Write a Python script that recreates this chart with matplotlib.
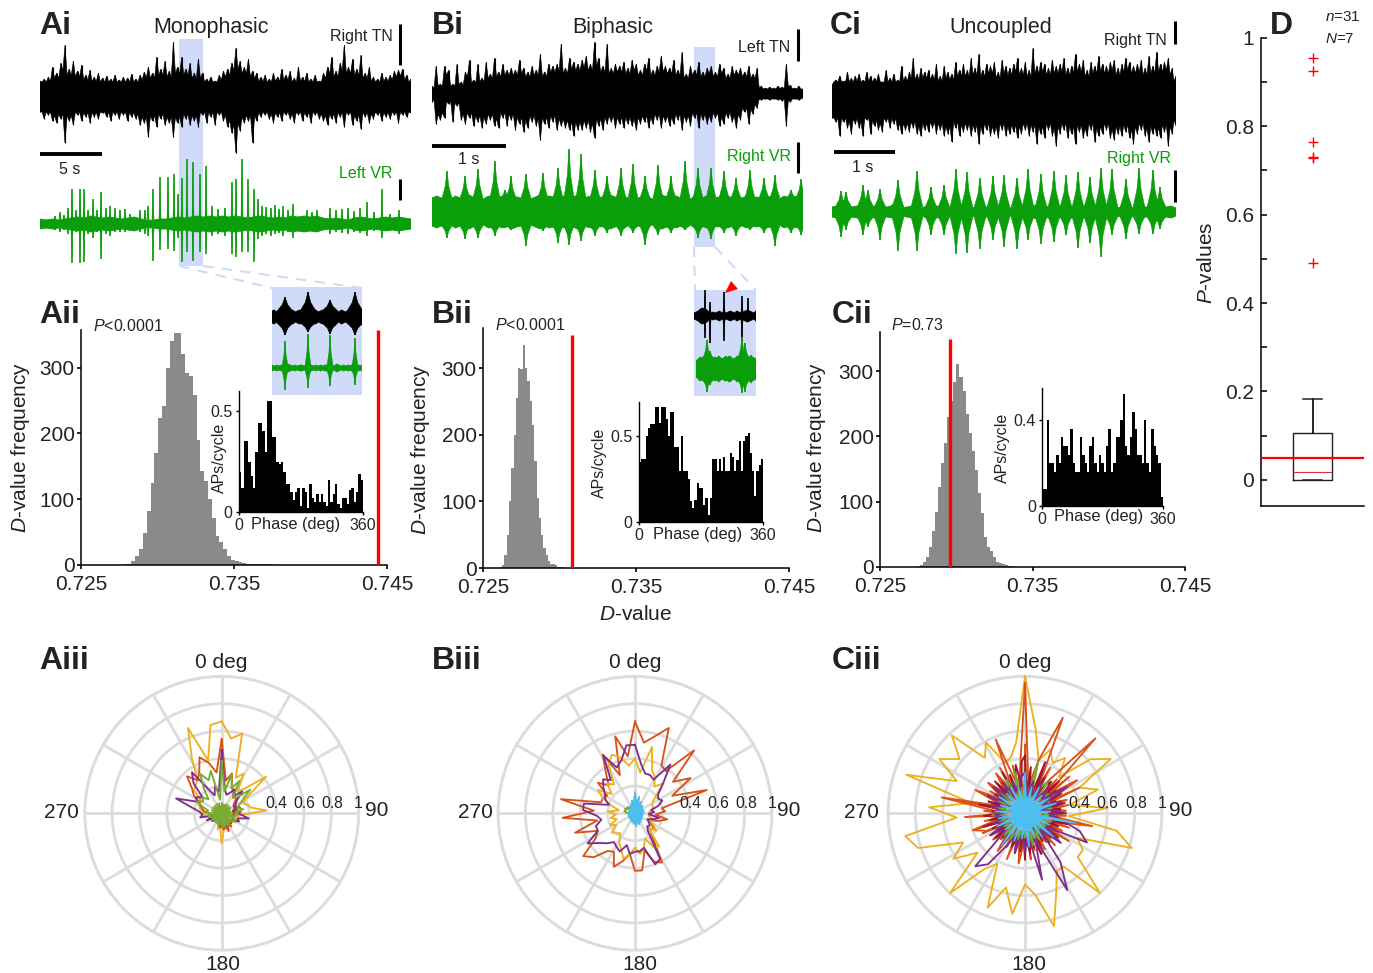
import numpy as np
import matplotlib
matplotlib.use('Agg')
import matplotlib.pyplot as plt

plt.rcParams['font.family'] = ['Liberation Sans', 'DejaVu Sans']
plt.rcParams['mathtext.fontset'] = 'custom'
plt.rcParams['mathtext.rm'] = 'Liberation Sans'
plt.rcParams['mathtext.it'] = 'Liberation Sans:italic'
plt.rcParams['text.color'] = '#222222'
plt.rcParams['xtick.labelcolor'] = '#222222'
plt.rcParams['ytick.labelcolor'] = '#222222'

W, H = 1373, 973
BLACK = '#000000'
GREEN = '#0a9e0a'
BLUE = '#cfdbf8'
GREY = '#8a8a8a'
RED = '#ff0000'
RING = '#dcdcdc'
AMBER = '#edb120'
ORANGE = '#d95319'
PURPLE = '#7e2f8e'
LEAF = '#77ac30'
SKY = '#4dbeee'
WINE = '#a2142f'

# nerve traces, envelope amplitude above / below baseline
ai_tn_up = [16,18,20,30,24,34,52,28,36,26,32,22,27,20,24,19,21,18,22,17,20,19,23,18,22,25,30,24,40,28,36,26,55,30,40,28,34,24,38,24,18,20,16,22,26,28,34,49,36,30,38,26,24,20,22,18,24,20,28,22,26,19,30,20,24,18,22,16,24,30,40,26,34,52,30,38,28,42,24,30,20,18,24,20,22,26,27,28,22,18]
ai_tn_dn = [15,22,18,24,26,22,46,24,28,18,24,20,26,20,22,16,20,24,18,22,18,24,20,22,28,26,40,24,30,22,28,26,40,26,30,22,28,24,30,18,26,20,28,18,24,30,36,56,34,26,24,46,24,20,18,22,26,20,24,18,22,26,18,24,20,26,18,22,24,28,22,26,20,30,18,28,24,32,20,26,22,18,24,20,22,18,26,18,20,16]
bi_tn_up = [8,28,10,28,24,10,30,12,22,34,14,30,16,32,20,36,22,30,24,26,24,34,26,22,28,24,40,22,30,28,30,50,26,36,32,30,34,38,30,52,36,28,50,26,30,28,32,26,34,30,24,30,36,24,28,38,28,26,34,24,42,20,28,24,32,22,26,28,22,30,26,20,28,24,26,22,28,20,26,8,6,7,6,8,7,30,9,6,8,5]
bi_tn_dn = [8,30,26,24,10,28,12,26,30,24,32,28,34,30,26,32,34,24,32,26,36,30,38,34,28,32,46,30,34,28,36,32,34,36,42,36,36,34,38,44,32,36,30,28,34,30,34,30,32,36,30,28,34,30,26,34,28,32,30,26,36,28,32,24,34,26,30,28,24,32,30,24,28,34,26,18,30,20,14,6,5,6,5,6,7,32,8,5,6,4]
ci_tn_up = [15,20,24,19,28,22,24,26,20,28,24,22,26,18,30,22,26,20,34,24,28,42,26,32,28,30,26,36,24,34,28,26,38,30,36,30,42,32,46,30,36,34,38,28,40,34,32,36,42,32,38,30,52,34,38,36,32,40,34,36,42,32,34,46,36,40,30,38,34,44,36,34,38,40,32,36,42,38,34,36,40,32,44,34,48,36,38,42,32,24]
ci_tn_dn = [18,22,36,22,28,34,24,28,36,20,34,26,30,32,22,28,24,30,34,30,32,28,34,36,30,32,28,34,30,36,34,42,28,36,32,30,36,32,44,34,30,36,34,38,30,36,34,32,38,34,30,36,32,44,34,38,30,36,46,34,30,38,34,44,32,38,36,30,42,36,34,30,38,40,34,36,32,38,44,34,30,36,42,34,36,38,32,46,34,26]

# ventral root bursts: position along the sweep, height up, depth down
ai_vr_t = [15,20,24,28,32,36,40,44,48,53,57,61,66,70,75,80,85,90,100,105,108,113,120,128,134,138,142,147,153,160,166,172,178,185,192,196,202,208,214,218,222,226,231,235,239,243,248,253,267,272,277,290,296,302,308,314,320,327,334,342,350,359]
ai_vr_up = [8,12,9,16,35,14,35,35,14,25,14,32,16,18,16,14,15,10,14,14,18,35,47,47,50,30,46,65,62,50,58,18,15,16,42,45,65,45,35,25,18,17,16,19,15,18,14,20,14,12,14,16,14,15,16,13,16,22,12,35,10,14]
ai_vr_dn = [6,8,6,10,39,8,39,38,10,14,8,35,10,12,8,8,8,6,8,10,12,37,26,25,27,14,38,28,37,28,30,12,10,12,30,33,28,28,38,15,12,10,12,10,9,12,8,14,8,7,8,10,8,9,10,8,9,12,7,14,6,10]
ai_vr_base = [5,4,5,4,5,6,7,6,8,7,6,7,6,5,6,7,5,4,4,5,5,6,7,6,7,8,7,8,7,8,7,8,7,6,7,8,7,6,7,6,8,7,8,7,8,6,5,6,5,4,6,7,6,5,6,7,6,7,6,5]
bi_vr_t = [15,33,46,63,73,79,94,111,126,137,149,163,175,189,201,213,226,239,253,266,279,292,304,318,332,343,359,369]
bi_vr_up = [41,36,43,51,22,36,38,39,44,63,58,42,36,44,48,36,47,36,51,44,44,41,34,42,34,37,22,33]
bi_vr_dn = [26,27,26,24,16,18,34,19,31,33,29,24,21,24,21,33,23,21,18,26,27,21,24,18,21,34,21,23]
bi_vr_base = [14,16,14,15,13,16,14,15,17,14,15,13,16,15,14,16,14,17,15,14,16,13,15,17,14,16,15,13,16,14,15,17,14,15,16,13,15,14,17,15,14,16,13,15,14,16,15,13,14,17,15,14,16,14,15,13,16,14,15,17,14,15,13,16,14,15,14,16,13,15,14,16,15,14,13,16,14,15,16,14]
ci_vr_t = [9,14,31,36,48,61,66,85,99,112,124,135,148,161,172,185,196,209,222,234,246,258,269,280,294,307,321,328]
ci_vr_up = [21,20,27,22,23,8,32,41,25,27,43,40,34,36,37,34,43,38,41,37,40,35,44,43,33,44,42,25]
ci_vr_dn = [25,18,23,15,28,5,39,39,23,23,42,41,37,28,35,37,28,32,30,23,36,31,45,23,27,22,22,17]
ci_vr_base = [5,6,5,7,5,6,4,6,5,7,6,5,6,5,4,5,6,5,4,6,5,6,5,4,5,6,5,6,4,5,6,5,7,5,6,5,4,6,5,6,5,7,5,6,4,5,6,5,6,4,5,6,7,5,6,5,6,4,5,6,5,4,6,5,6,5,7,5,6,4]

# zoomed sweeps shown inside the blue boxes
a_zoom_t = [13,36,58,83]
a_zoom_tn_up = [20,25,17,25]
a_zoom_tn_dn = [18,15,17,18]
a_zoom_tn_base = [6,7,5,7,8,6,9,8,6,7,5,6,7,5,7,8,10,7,6,7,5,6,7,5,8,9,7,8,6,5,7,6,5,7,6,8,9,7,6,8]
a_zoom_vr_up = [27,34,33,30]
a_zoom_vr_dn = [22,20,18,17]
a_zoom_vr_base = [3,2,3,2,3,2,3,4,3,2,3,2,3,3,2,3,4,3,2,3,2,3,2,3,3,2,3,2,4,3,2,3,2,3,2,4,3,2,3,2]
b_zoom_tn_t = [11,16,30,48,54]
b_zoom_tn_up = [26,14,24,20,18]
b_zoom_tn_dn = [22,27,25,25,6]
b_zoom_tn_base = [3,4,5,7,8,7,6,4,3,4,3,4,5,3,4,3,4,5,4,3,5,4,3,4,5,6,5,4,3,5]
b_zoom_vr_t = [11,14,30,46,49,55]
b_zoom_vr_up = [29,18,13,32,26,14]
b_zoom_vr_dn = [23,16,12,24,23,14]
b_zoom_vr_base = [8,10,12,11,13,12,11,12,10,12,11,13,11,10,12,11,13,12,10,11,13,12,14,12,11,13,11,12,10,11]

# D-value histograms
a_hist_start, a_hist_bin = 0.7278, 0.00025
a_hist = [2,2,6,14,25,48,82,125,170,224,241,300,340,352,352,320,292,287,259,190,143,128,100,72,44,35,24,13,8,6,4,3,2,1,2,1,1,2,1]
a_obs = 0.7444
b_hist_start, b_hist_bin = 0.7261, 0.00015
b_hist = [2,5,20,50,100,150,200,255,300,298,335,300,280,250,215,160,105,75,50,30,20,10,6,6,5,2,2,1]
b_obs = 0.7308
c_hist_start, c_hist_bin = 0.72741, 0.0002
c_hist = [2,3,8,15,30,55,85,122,160,190,230,255,283,311,291,270,235,205,178,148,113,82,46,31,25,15,8,6,4,3,2,1]
c_obs = 0.7296

# phase histograms, APs per cycle
a_phase = [0.2,0.12,0.35,0.35,0.25,0.18,0.12,0.3,0.44,0.44,0.4,0.3,0.55,0.55,0.37,0.37,0.25,0.24,0.25,0.2,0.14,0.14,0.1,0.06,0.1,0.12,0.03,0.12,0.1,0.02,0.14,0.07,0.05,0.09,0.05,0.09,0.05,0.03,0.16,0.05,0.09,0.14,0.04,0.02,0.07,0.07,0.04,0.11,0.12,0.05,0.1,0.19,0.16]
b_phase = [0.35,0.37,0.37,0.5,0.55,0.57,0.57,0.67,0.67,0.58,0.67,0.67,0.6,0.5,0.64,0.64,0.44,0.44,0.3,0.5,0.3,0.3,0.25,0.12,0.08,0.13,0.23,0.2,0.2,0.1,0.14,0.04,0.14,0.37,0.37,0.3,0.37,0.3,0.38,0.3,0.3,0.4,0.38,0.3,0.36,0.47,0.3,0.47,0.5,0.52,0.4,0.3,0.15,0.3,0.33,0.37]
c_phase = [0.08,0.08,0.4,0.2,0.2,0.16,0.24,0.2,0.32,0.28,0.28,0.24,0.36,0.2,0.16,0.16,0.32,0.24,0.2,0.16,0.28,0.32,0.2,0.16,0.24,0.2,0.16,0.28,0.36,0.16,0.2,0.32,0.32,0.4,0.52,0.28,0.24,0.32,0.44,0.36,0.24,0.24,0.2,0.4,0.2,0.16,0.36,0.28,0.24,0.2,0.04]

# polar phase plots, one value per 7.2 deg (3.6 deg for the densest ones)
a_amber = [.67,.55,.6,.28,.33,.2,.25,.42,.22,.17,.2,.22,.33,.15,.12,.09,.12,.08,.1,.06,.08,.1,.07,.1,.12,.22,.1,.12,.06,.08,.06,.05,.07,.06,.05,.09,.1,.14,.13,.16,.17,.2,.18,.26,.28,.3,.45,.67,.4,.65]
a_orange = [.54,.24,.3,.2,.18,.14,.16,.12,.1,.12,.09,.1,.14,.08,.1,.08,.09,.1,.08,.06,.12,.09,.14,.1,.12,.1,.08,.06,.07,.05,.06,.06,.05,.08,.06,.09,.1,.08,.12,.14,.16,.18,.24,.28,.37,.3,.34,.44,.38,.3]
a_purple = [.46,.18,.14,.16,.2,.16,.22,.14,.12,.1,.14,.08,.1,.14,.2,.12,.14,.1,.08,.1,.07,.08,.1,.08,.06,.08,.1,.06,.08,.06,.07,.06,.09,.06,.12,.06,.16,.14,.16,.22,.35,.2,.22,.18,.3,.37,.2,.14,.2,.16]
a_leaf = [.38,.16,.29,.2,.27,.14,.16,.27,.18,.14,.12,.16,.1,.12,.1,.08,.1,.12,.07,.09,.08,.1,.07,.1,.08,.1,.07,.09,.07,.06,.08,.06,.05,.08,.06,.09,.1,.08,.12,.1,.14,.2,.16,.18,.14,.22,.33,.26,.32,.1]
a_core = [.08,.03,.07,.04,.08,.03,.08,.04,.08,.03,.07,.04,.08,.03,.08,.04,.08,.03,.08,.04,.08,.03,.09,.04,.1,.03,.08,.04,.08,.03,.08,.04,.08,.03,.07,.04,.08,.03,.08,.04,.08,.03,.08,.04,.08,.03,.08,.04,.08,.03]
b_orange = [.67,.52,.58,.67,.4,.38,.63,.36,.48,.3,.55,.2,.22,.15,.24,.18,.12,.14,.18,.16,.22,.41,.38,.28,.42,.42,.3,.36,.42,.32,.34,.44,.49,.34,.3,.46,.28,.53,.3,.55,.26,.26,.24,.35,.28,.36,.49,.3,.58,.42]
b_amber = [.4,.3,.5,.34,.3,.24,.3,.2,.15,.14,.14,.12,.1,.12,.1,.14,.12,.16,.2,.14,.3,.28,.2,.26,.3,.25,.3,.34,.28,.24,.18,.2,.22,.16,.2,.14,.18,.14,.2,.12,.18,.26,.32,.22,.3,.26,.4,.46,.42,.35]
b_purple = [.5,.36,.3,.3,.28,.44,.3,.22,.2,.22,.18,.12,.14,.1,.18,.14,.1,.12,.14,.13,.16,.38,.4,.26,.28,.28,.3,.24,.3,.28,.26,.3,.34,.41,.3,.3,.25,.28,.38,.38,.2,.24,.26,.3,.34,.3,.48,.36,.4,.5]
b_leaf = [.06,.05,.04,.05,.04,.05,.04,.05,.04,.05,.04,.05,.04,.05,.04,.05,.04,.05,.04,.05,.04,.05,.04,.05,.04,.05,.04,.05,.04,.05,.04,.05,.04,.05,.04,.05,.04,.05,.06,.08,.07,.08,.06,.07,.05,.06,.05,.06,.05,.06]
b_sky = [.16,.08,.13,.07,.1,.06,.08,.07,.06,.06,.07,.05,.07,.05,.06,.05,.06,.05,.07,.05,.08,.06,.09,.06,.1,.07,.08,.06,.07,.05,.06,.05,.05,.04,.05,.04,.05,.04,.05,.04,.05,.04,.05,.04,.05,.05,.07,.06,.1,.08]
c_amber = [1.0,.62,.4,.5,.42,.5,.36,.62,.74,.44,.56,.33,.6,.32,.68,.82,.42,.5,.5,.8,.48,.48,.62,.85,.6,.52,.74,.56,.74,.42,.5,.8,.45,.62,.5,.82,.89,.5,.7,.4,.91,.55,.74,.62,.78,.5,.59,.4,.42,.52]
c_orange = [.95,.2,.4,.75,.18,.3,.75,.2,.45,.16,.32,.18,.3,.16,.5,.18,.24,.14,.25,.12,.2,.16,.3,.14,.28,.18,.37,.16,.28,.14,.34,.18,.3,.16,.3,.4,.18,.28,.2,.62,.16,.4,.18,.35,.2,.36,.18,.58,.2,.3]
c_purple = [.3,.12,.24,.14,.26,.12,.24,.16,.36,.14,.28,.12,.26,.18,.28,.42,.5,.18,.34,.16,.44,.64,.2,.5,.16,.28,.14,.3,.16,.26,.46,.53,.16,.3,.14,.24,.16,.22,.14,.26,.16,.28,.14,.3,.16,.26,.14,.24,.16,.26]
c_leaf = [.24,.1,.38,.12,.22,.28,.1,.22,.12,.2,.1,.2,.12,.18,.1,.2,.12,.2,.1,.18,.12,.22,.1,.24,.12,.18,.1,.2,.12,.24,.1,.22,.12,.18,.1,.2,.12,.24,.1,.22,.12,.24,.1,.26,.12,.2,.28,.1,.32,.12]
c_red2 = [.5,.12,.3,.14,.36,.1,.26,.16,.38,.12,.28,.14,.34,.1,.42,.16,.3,.12,.44,.14,.26,.1,.32,.16,.28,.12,.3,.14,.24,.1,.34,.14,.3,.12,.38,.16,.28,.1,.32,.14,.26,.12,.3,.1,.24,.14,.28,.12,.34,.1,.3,.16,.26,.12,.28,.14,.36,.1,.24,.12,.32,.14,.26,.1,.3,.16,.28,.12,.34,.1,.4,.14,.3,.12,.44,.16,.3,.1,.52,.14,.28,.12,.36,.1,.3,.16,.34,.12,.28,.14,.32,.1,.38,.14,.3,.12,.36,.16,.28,.1]
c_wine = [.42,.14,.34,.18,.28,.12,.4,.2,.3,.14,.26,.3,.2,.34,.14,.28,.12,.3,.16,.24,.12,.3,.14,.26,.16,.3,.12,.24,.14,.32,.18,.26,.12,.28,.16,.3,.12,.26,.14,.28,.16,.24,.12,.3,.32,.14,.26,.18,.3,.12,.34,.16,.28,.12,.3,.18,.26,.14,.28,.12,.3,.16,.24,.14,.28,.12,.3,.16,.26,.14,.32,.12,.26,.16,.3,.14,.24,.12,.34,.16,.28,.14,.3,.12,.26,.16,.3,.14,.32,.18,.28,.12,.34,.16,.3,.14,.28,.36,.2,.38]
c_sky = [.3,.08,.2,.07,.22,.08,.18,.07,.21,.09,.24,.08,.19,.07,.37,.1,.2,.08,.27,.08,.22,.07,.2,.09,.25,.1,.19,.07,.22,.08,.3,.08,.19,.07,.23,.09,.2,.07,.22,.08,.19,.07,.23,.08,.2,.07,.22,.09,.2,.08]

# P-values, box summary
p_median, p_q1, p_q3, p_low, p_high = 0.018, 0.0, 0.105, 0.0, 0.182
p_fliers = [0.955, 0.925, 0.765, 0.73, 0.727, 0.49]
p_alpha = 0.05

fig = plt.figure(figsize=(W / 100, H / 100), dpi=100)


def add_ax(x0, y0, x1, y1, **kw):
    return fig.add_axes([x0 / W, 1 - y1 / H, (x1 - x0) / W, (y1 - y0) / H], **kw)


def zigzag(vals, floor):
    # spike tips with a valley between each pair, so the band reads as single spikes
    vals = np.array(vals, dtype=float)
    valley = np.maximum(floor, 0.78 * np.minimum(vals[:-1], vals[1:]))
    out = np.empty(len(vals) * 2 - 1)
    out[::2] = vals
    out[1::2] = valley
    return out


def draw_envelope(x0, x1, centre, up, dn, floor, color, zorder=2):
    ax = add_ax(x0, centre - 80, x1, centre + 80, zorder=zorder)
    ax.set_xlim(0, 1)
    ax.set_ylim(-80, 80)
    ax.axis('off')
    zu, zd = zigzag(up, floor), zigzag(dn, floor)
    xu = np.linspace(0, 1, len(zu))
    xd = np.linspace(0, 1, len(zd))
    ax.fill(np.r_[xu, xd[::-1]], np.r_[zu, -zd[::-1]], color=color, lw=0.4)
    ax.vlines(xu[::2], 0, up, color=color, lw=0.8)
    ax.vlines(xd[::2], -np.array(dn), 0, color=color, lw=0.8)


def draw_bursts(x0, x1, centre, t, up, dn, base, width, color, zorder=2):
    ax = add_ax(x0, centre - 80, x1, centre + 80, zorder=zorder)
    ax.set_xlim(0, x1 - x0)
    ax.set_ylim(-80, 80)
    ax.axis('off')
    xb = np.linspace(0, x1 - x0, len(base))
    base = np.array(base, dtype=float)
    ax.fill(np.r_[xb, xb[::-1]], np.r_[base, -base[::-1]], color=color, lw=0.6)
    core = base.mean() - 1
    for ti, u, d in zip(t, up, dn):
        for sign, h in ((1, u), (-1, d)):
            xs = [ti - width, ti - width * 0.35, ti, ti + width * 0.35, ti + width]
            ys = [core, core + 0.45 * (h - core), h, core + 0.45 * (h - core), core]
            ax.fill(xs, sign * np.array(ys), color=color, lw=0.4)
        ax.vlines(ti, -d, u, color=color, lw=1.1)


def draw_hist(box, start, bin_w, vals, obs, top, obs_top):
    ax = add_ax(*box, zorder=2)
    ax.patch.set_alpha(0)
    edges = start + bin_w * np.arange(len(vals) + 1)
    ax.stairs(vals, edges, fill=True, color=GREY, lw=0)
    ax.vlines(obs, 0, obs_top, color=RED, lw=2.4, zorder=3)
    ax.set_xlim(0.725, 0.745)
    ax.set_ylim(0, top)
    ax.set_xticks([0.725, 0.735, 0.745], ['0.725', '0.735', '0.745'])
    ax.set_yticks([0, 100, 200, 300])
    ax.spines[['top', 'right']].set_visible(False)
    ax.spines[['left', 'bottom']].set_linewidth(1.1)
    ax.tick_params(axis='both', labelsize=15, length=3, width=1.2, pad=1.5)
    ax.tick_params(axis='x', pad=4)
    return ax


def draw_phase(box, vals, ymax, ytick, label):
    ax = add_ax(*box, zorder=3)
    ax.patch.set_alpha(0)
    ax.stairs(vals, np.arange(len(vals) + 1), fill=True, color=BLACK, lw=0)
    ax.set_xlim(0, len(vals))
    ax.set_ylim(0, ymax)
    ax.set_xticks([0, len(vals)], ['0', '360'])
    ax.set_yticks([0, ytick], ['0', label])
    ax.spines[['top', 'right']].set_visible(False)
    ax.spines[['left', 'bottom']].set_linewidth(1.0)
    ax.tick_params(axis='both', labelsize=11.5, length=2.5, width=1, pad=2)
    ax.tick_params(axis='x', pad=1.5)


def draw_polar(cx, cy, series, core=None):
    ax = add_ax(cx - 137, cy - 137, cx + 137, cy + 137, projection='polar', zorder=2)
    ax.set_theta_zero_location('N')
    ax.set_theta_direction(-1)
    ax.set_rlim(0, 1)
    ax.set_rgrids([0.2, 0.4, 0.6, 0.8, 1.0], labels=[])
    ax.set_thetagrids(np.arange(0, 360, 30), labels=[])
    ax.grid(color=RING, lw=2.0)
    ax.spines['polar'].set_color(RING)
    ax.spines['polar'].set_linewidth(2.0)
    ax.patch.set_alpha(0)
    for vals, col in series:
        th = np.deg2rad(np.arange(len(vals) + 1) * 360 / len(vals))
        ax.plot(th, vals + vals[:1], color=col, lw=1.35, clip_on=False, zorder=3)
    if core is not None:
        vals, col = core
        th = np.deg2rad(np.arange(len(vals) + 1) * 360 / len(vals))
        ax.fill(th, vals + vals[:1], color=col, lw=1.0, zorder=4)


# blue highlight boxes go underneath everything
back = add_ax(0, 0, W, H, zorder=0)
back.set_xlim(0, W)
back.set_ylim(H, 0)
back.axis('off')
for x0, y0, x1, y1 in [(179, 39, 203, 266), (272, 287, 362, 395), (694, 47, 715, 247), (694, 290, 756, 396)]:
    back.fill([x0, x1, x1, x0], [y0, y0, y1, y1], color=BLUE, lw=0)
for xs, ys in [((179, 272), (266, 288)), ((203, 362), (266, 288)), ((694, 695), (247, 290)), ((715, 756), (247, 290))]:
    back.plot(xs, ys, color=BLUE, lw=1.5, dashes=(5, 4))

# traces
draw_envelope(40, 411, 97, ai_tn_up, ai_tn_dn, 15, BLACK)
draw_bursts(40, 411, 224, ai_vr_t, ai_vr_up, ai_vr_dn, ai_vr_base, 1.0, GREEN)
draw_envelope(432, 803, 94, bi_tn_up, bi_tn_dn, 5, BLACK)
draw_bursts(432, 803, 212, bi_vr_t, bi_vr_up, bi_vr_dn, bi_vr_base, 5, GREEN)
draw_envelope(832, 1176, 100, ci_tn_up, ci_tn_dn, 18, BLACK)
draw_bursts(832, 1176, 212, ci_vr_t, ci_vr_up, ci_vr_dn, ci_vr_base, 6, GREEN)
draw_bursts(272, 362, 317, a_zoom_t, a_zoom_tn_up, a_zoom_tn_dn, a_zoom_tn_base, 8, BLACK, zorder=3)
draw_bursts(272, 362, 368, a_zoom_t, a_zoom_vr_up, a_zoom_vr_dn, a_zoom_vr_base, 3, GREEN, zorder=3)
draw_bursts(694, 756, 316, b_zoom_tn_t, b_zoom_tn_up, b_zoom_tn_dn, b_zoom_tn_base, 1, BLACK, zorder=3)
draw_bursts(696, 756, 369, b_zoom_vr_t, b_zoom_vr_up, b_zoom_vr_dn, b_zoom_vr_base, 4, GREEN, zorder=3)

# histograms
draw_hist((81, 330, 387, 565), a_hist_start, a_hist_bin, a_hist, a_obs, 357, 357)
draw_hist((483, 328, 789, 568), b_hist_start, b_hist_bin, b_hist, b_obs, 360, 350)
draw_hist((880, 332, 1185, 567), c_hist_start, c_hist_bin, c_hist, c_obs, 360, 350)
draw_phase((239, 391, 363, 512), a_phase, 0.6, 0.5, '0.5')
draw_phase((639, 402, 763, 522), b_phase, 0.7, 0.5, '0.5')
draw_phase((1042, 388, 1163, 506), c_phase, 0.55, 0.4, '0.4')

# polar plots
draw_polar(221.7, 813.3, [(a_amber, AMBER), (a_orange, ORANGE), (a_purple, PURPLE), (a_leaf, LEAF)], (a_core, LEAF))
draw_polar(635, 813.3, [(b_orange, ORANGE), (b_amber, AMBER), (b_purple, PURPLE), (b_leaf, LEAF)], (b_sky, SKY))
draw_polar(1025, 813.3, [(c_amber, AMBER), (c_orange, ORANGE), (c_red2, ORANGE), (c_wine, WINE), (c_leaf, LEAF), (c_purple, PURPLE)], (c_sky, SKY))

# panel D box plot
axd = add_ax(1261, 37.7, 1364, 506, zorder=2)
axd.patch.set_alpha(0)
stats = [{'med': p_median, 'q1': p_q1, 'q3': p_q3, 'whislo': p_low, 'whishi': p_high, 'fliers': p_fliers}]
axd.bxp(stats, positions=[1], widths=0.757, capwidths=0.37,
        boxprops={'color': '#222222', 'lw': 1.0},
        whiskerprops={'color': BLACK, 'lw': 1.2},
        capprops={'color': '#222222', 'lw': 1.1},
        medianprops={'color': '#e03030', 'lw': 0.8},
        flierprops={'marker': '+', 'markeredgecolor': RED, 'markersize': 6.5, 'markeredgewidth': 1.0})
axd.axhline(p_alpha, color=RED, lw=1.6, zorder=5)
axd.set_xlim(0, 2)
axd.set_ylim(-0.059, 1)
axd.set_xticks([])
axd.set_yticks([0, 0.2, 0.4, 0.6, 0.8, 1], ['0', '0.2', '0.4', '0.6', '0.8', '1'])
axd.set_yticks([0.1, 0.3, 0.5, 0.7, 0.9], minor=True)
axd.spines[['top', 'right']].set_visible(False)
axd.spines[['left', 'bottom']].set_linewidth(1.1)
axd.tick_params(axis='y', which='both', direction='in', length=4, width=1.1, labelsize=15, pad=5)

# all the free text and scale bars go on a top layer, in figure pixels
top = add_ax(0, 0, W, H, zorder=20)
top.set_xlim(0, W)
top.set_ylim(H, 0)
top.axis('off')


def put(x, y, s, size=15, **kw):
    kw.setdefault('ha', 'center')
    kw.setdefault('va', 'center')
    top.text(x, y + 2, s, fontsize=size, **kw)


for x, y, s in [(39, 24, 'Ai'), (432, 24, 'Bi'), (830, 24, 'Ci'), (39, 313, 'Aii'), (432, 313, 'Bii'), (832, 313, 'Cii'),
                (39, 659, 'Aiii'), (432, 659, 'Biii'), (832, 659, 'Ciii'), (1270, 24, 'D')]:
    put(x, y, s, size=23, ha='left', fontweight='bold')

for x, s in [(211, 'Monophasic'), (613, 'Biphasic'), (1001, 'Uncoupled')]:
    put(x, 26, s, size=15.5)
for x, y, s in [(361, 35, 'Right TN'), (764, 45, 'Left TN'), (1135, 39, 'Right TN')]:
    put(x, y, s, size=11.5)
for x, y, s in [(366, 172, 'Left VR'), (759, 155, 'Right VR'), (1139, 157, 'Right VR')]:
    put(x, y, s, size=11.5, color=GREEN)
for x, y, s in [(70, 168, '5 s'), (469, 158, '1 s'), (863, 165, '1 s')]:
    put(x, y, s, size=11.5)

# scale bars
for x0, x1, y in [(40, 102, 154), (432, 506, 146), (834, 895, 152)]:
    top.plot([x0, x1], [y, y], color=BLACK, lw=2.8, solid_capstyle='butt')
for x, y0, y1 in [(399.5, 24, 65), (399.5, 179, 200), (798, 29, 61), (798, 142, 173), (1175, 21, 44), (1175, 170, 202)]:
    top.plot([x, x], [y0, y1], color=BLACK, lw=2.2, solid_capstyle='butt')
top.fill([725, 731, 738], [293, 281, 289], color=RED, lw=0)

put(93, 324, r'$\mathit{P}$<0.0001', size=11.5, ha='left')
put(495, 323, r'$\mathit{P}$<0.0001', size=11.5, ha='left')
put(891, 323, r'$\mathit{P}$=0.73', size=11.5, ha='left')
for x, y in [(21, 445), (421, 447), (816, 445)]:
    put(x, y, r'$\mathit{D}$-value frequency', rotation=90)
put(636, 612, r'$\mathit{D}$-value')
put(1207, 261, r'$\mathit{P}$-values', rotation=90)
put(1325, 15, r'$\mathit{n}$=31', size=11, ha='left')
put(1325, 37, r'$\mathit{N}$=7', size=11, ha='left')
for x, y, in [(219, 456), (599, 461), (1002, 446)]:
    put(x, y, 'APs/cycle', size=11.5, rotation=90)
for x, y in [(296, 522), (698, 532), (1099, 515)]:
    put(x, y, 'Phase (deg)', size=11.8)

# polar labels
for c0, c90, c180, c270, radial in [
    ((221, 661), (377, 809), (223, 962), (61, 811), (276, 304, 332, 358)),
    ((635, 660), (789, 809), (640, 962), (475, 810), (690, 718, 746, 772)),
    ((1025, 660), (1181, 809), (1029, 962), (861, 810), (1079, 1107, 1136, 1162)),
]:
    put(c0[0], c0[1], '0 deg')
    put(c90[0], c90[1], '90')
    put(c180[0], c180[1], '180')
    put(c270[0], c270[1], '270')
    for x, s in zip(radial, ['0.4', '0.6', '0.8', '1']):
        put(x, 801, s, size=11.3)

fig.savefig('out.png', dpi=100)
